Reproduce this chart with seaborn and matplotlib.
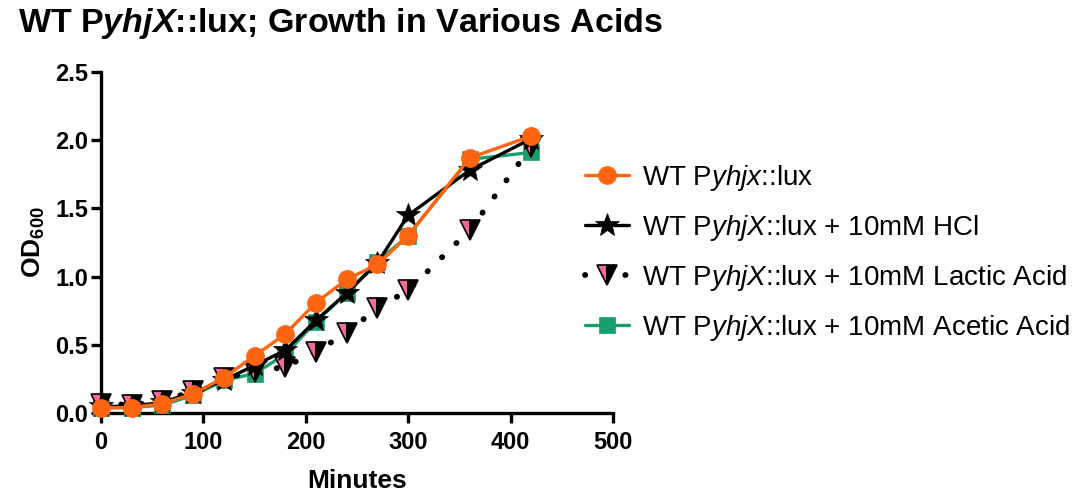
import matplotlib
matplotlib.use("Agg")
import matplotlib.pyplot as plt
import seaborn as sns
import numpy as np

minutes = [0, 30, 60, 90, 120, 150, 180, 210, 240, 270, 300, 360, 420]
wt = [0.04, 0.04, 0.07, 0.14, 0.26, 0.42, 0.58, 0.81, 0.98, 1.09, 1.30, 1.87, 2.03]
hcl = [0.05, 0.05, 0.08, 0.15, 0.24, 0.35, 0.46, 0.68, 0.88, 1.10, 1.45, 1.78, 2.01]
lactic = [0.07, 0.06, 0.09, 0.16, 0.26, 0.30, 0.34, 0.45, 0.59, 0.77, 0.90, 1.34, 1.95]
acetic = [0.04, 0.04, 0.06, 0.13, 0.24, 0.29, 0.43, 0.67, 0.88, 1.11, 1.30, 1.86, 1.91]

labels = [r"WT P$\mathit{yhjx}$::lux",
          r"WT P$\mathit{yhjX}$::lux + 10mM HCl",
          r"WT P$\mathit{yhjX}$::lux + 10mM Lactic Acid",
          r"WT P$\mathit{yhjX}$::lux + 10mM Acetic Acid"]

sns.set_theme(style="ticks")
plt.rcParams['font.family'] = ['Liberation Sans', 'DejaVu Sans']
plt.rcParams['text.color'] = 'black'
plt.rcParams['axes.labelcolor'] = 'black'
plt.rcParams['mathtext.fontset'] = 'custom'
plt.rcParams['mathtext.rm'] = 'Liberation Sans'
plt.rcParams['mathtext.it'] = 'Liberation Sans:italic'
plt.rcParams['mathtext.bf'] = 'Liberation Sans:bold'
plt.rcParams['mathtext.bfit'] = 'Liberation Sans:bold:italic'

fig = plt.figure(figsize=(10.81, 4.93), dpi=100)
ax = fig.add_axes([0.0934, 0.162, 0.4736, 0.692])

orange = "#ff6410"
green = "#17a06c"
pink = "#f06b9c"

sns.lineplot(x=minutes, y=acetic, ax=ax, color=green, linewidth=2.4,
             marker="s", markersize=12, markeredgecolor=green,
             markeredgewidth=0.5, label=labels[3], zorder=2, clip_on=False)
sns.lineplot(x=minutes, y=lactic, ax=ax, color="black", linewidth=4.2,
             linestyle=(0, (0.05, 3.4)), dash_capstyle="round",
             marker="v", markersize=14, fillstyle="left",
             markerfacecolor=pink, markerfacecoloralt="black",
             markeredgecolor="black", markeredgewidth=1.2,
             label=labels[2], zorder=3, clip_on=False)
sns.lineplot(x=minutes, y=hcl, ax=ax, color="black", linewidth=2.4,
             marker="*", markersize=18, markeredgecolor="black",
             markeredgewidth=0.5, label=labels[1], zorder=4, clip_on=False)
sns.lineplot(x=minutes, y=wt, ax=ax, color=orange, linewidth=2.4,
             marker="o", markersize=13, markeredgecolor=orange,
             markeredgewidth=0.5, label=labels[0], zorder=5, clip_on=False)

ax.set_xlim(0, 500)
ax.set_ylim(0, 2.5)
ax.set_xticks([0, 100, 200, 300, 400, 500])
ax.set_yticks([0.0, 0.5, 1.0, 1.5, 2.0, 2.5])
ax.set_yticklabels(["0.0", "0.5", "1.0", "1.5", "2.0", "2.5"])
sns.despine(ax=ax)
for s in ["left", "bottom"]:
    ax.spines[s].set_linewidth(2.4)
    ax.spines[s].set_color("black")
    ax.spines[s].set_zorder(1)
ax.tick_params(axis="both", width=2.4, length=7, labelsize=17, color="black",
               labelcolor="black")
ax.tick_params(axis="x", pad=6)
ax.tick_params(axis="y", pad=2)
for lab in ax.get_xticklabels() + ax.get_yticklabels():
    lab.set_fontweight("bold")

ax.set_xlabel("Minutes", fontsize=19, fontweight="bold", labelpad=11)
ax.set_ylabel(r"OD$_{\mathbf{600}}$", fontsize=19, fontweight="bold", labelpad=6)

fig.text(0.017, 0.952, r"WT P$\mathbfit{yhjX}$::lux; Growth in Various Acids",
         fontsize=24.5, fontweight="bold", ha="left", va="center")

handles, labs = ax.get_legend_handles_labels()
order = [labs.index(l) for l in labels]
leg = ax.legend([handles[i] for i in order], [labs[i] for i in order],
                loc="center left", bbox_to_anchor=(0.945, 0.47), frameon=False,
                fontsize=20, handlelength=1.6, labelspacing=0.72,
                handletextpad=0.45, borderaxespad=0, borderpad=0)

fig.savefig("out.png", dpi=100)
